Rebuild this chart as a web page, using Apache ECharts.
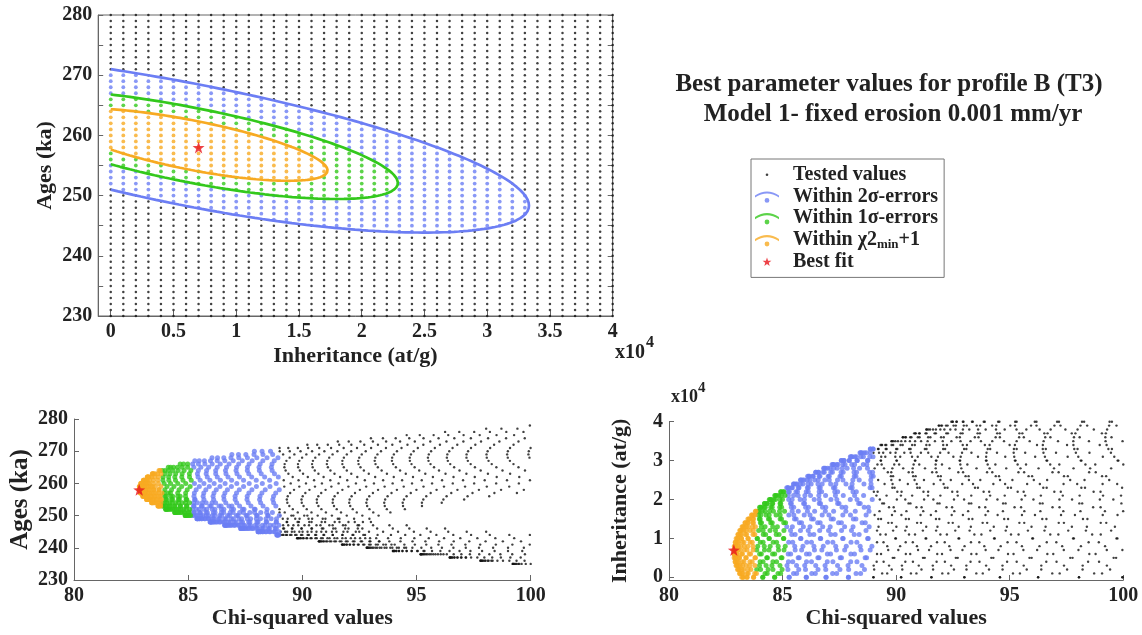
<!DOCTYPE html>
<html><head><meta charset="utf-8">
<script src="https://cdn.jsdelivr.net/npm/echarts@6/dist/echarts.min.js"></script>
<style>html,body{margin:0;padding:0;background:#fff}#c{width:1142px;height:635px}</style>
</head><body><div id="c"></div><script>
// ---- tested grid (inheritance in 10^4 at/g, ages in ka) ----
const inheritanceGrid = [0,0.1,0.2,0.3,0.4,0.5,0.6,0.7,0.8,0.9,1,1.1,1.2,1.3,1.4,1.5,1.6,1.7,1.8,1.9,2,2.1,2.2,2.3,2.4,2.5,2.6,2.7,2.8,2.9,3,3.1,3.2,3.3,3.4,3.5,3.6,3.7,3.8,3.9,4];
const ageGrid = [230,231,232,233,234,235,236,237,238,239,240,241,242,243,244,245,246,247,248,249,250,251,252,253,254,255,256,257,258,259,260,261,262,263,264,265,266,267,268,269,270,271,272,273,274,275,276,277,278,279,280];
// ---- chi-squared surface ----
const chi2Min = 82.85;
const bestFit = [0.7, 258];
const levelValues = [83.85, 85.15, 89.0];      // chi2min+1, 1 sigma, 2 sigma
const valleyAge = [261.0, -4.1, 0.09];         // age of column minimum vs inheritance
const valleyChi = [0.643, 0.85];               // inheritance of minimum, curvature
const ageCurvature = 0.058;
// ---- ticks ----
const inhTicks = [0,0.5,1,1.5,2,2.5,3,3.5,4];
const inhTicksBR = [0,1,2,3,4];
const levelNames = ['Within χ2min+1','Within 1σ-errors','Within 2σ-errors'];
const levelColors = ['#f7aa22','#33c81c','#6c7ef4'];

const FF = "'Liberation Serif','Times New Roman',serif";
const TXT = '#222';
const AX = '#666';

function mid(x){return valleyAge[0]+valleyAge[1]*x+valleyAge[2]*x*x;}
function chi2(x,y){const m=mid(x);return chi2Min+valleyChi[1]*(x-valleyChi[0])**2+ageCurvature*(y-m)**2;}

const pts = {black:[],lv:[[],[],[]]};
inheritanceGrid.forEach(x=>ageGrid.forEach(y=>{
  const c=chi2(x,y); let k=-1;
  for(let i=0;i<3;i++){if(c<=levelValues[i]){k=i;break;}}
  const p=[x,y,c];
  if(k<0) pts.black.push(p); else pts.lv[k].push(p);
}));
const bestChi = chi2(bestFit[0],bestFit[1]);

function contour(L){
  const d=L-chi2Min, R=Math.sqrt(d/valleyChi[1]), H=Math.sqrt(d/ageCurvature);
  let c0=-valleyChi[0]/R; if(c0<-1)c0=-1;
  const t0=Math.acos(c0), out=[];
  for(let i=0;i<=160;i++){const t=t0-2*t0*i/160;const x=valleyChi[0]+R*Math.cos(t);out.push([Math.max(0,x),mid(x)+H*Math.sin(t)]);}
  return out;
}

const starPath='path://M0,-10L2.35,-3.24L9.51,-3.09L3.8,1.24L5.88,8.09L0,4L-5.88,8.09L-3.8,1.24L-9.51,-3.09L-2.35,-3.24Z';
const pad='M0,0L0,0M33,14L33,14';
const arcIcon='path://'+pad+'M0,6Q12,-2 24,6L24,8.2Q12,0.2 0,8.2ZM9.6,11A2.4,2.4 0 1,0 14.4,11A2.4,2.4 0 1,0 9.6,11Z';
const dotIcon='path://'+pad+'M10.7,7A1.3,1.3 0 1,0 13.3,7A1.3,1.3 0 1,0 10.7,7Z';
const starIcon='path://'+pad+'M12,3L13.1,6.1L16.4,6.2L13.8,8.2L14.7,11.4L12,9.5L9.3,11.4L10.2,8.2L7.6,6.2L10.9,6.1Z';

const series=[];
// top grid
series.push({name:'Tested values',type:'scatter',xAxisIndex:0,yAxisIndex:0,symbolSize:2.5,itemStyle:{color:'#111'},data:pts.black.map(p=>[p[0],p[1]]),z:2});
for(let k=2;k>=0;k--){
  series.push({name:levelNames[k],type:'scatter',xAxisIndex:0,yAxisIndex:0,symbolSize:3.8,itemStyle:{color:levelColors[k]},data:pts.lv[k].map(p=>[p[0],p[1]]),z:3});
}
for(let k=2;k>=0;k--){
  series.push({name:levelNames[k],type:'line',xAxisIndex:0,yAxisIndex:0,showSymbol:false,symbol:'none',lineStyle:{color:levelColors[k],width:2.7},itemStyle:{color:levelColors[k]},data:contour(levelValues[k]),z:4});
}
series.push({name:'Best fit',type:'scatter',xAxisIndex:0,yAxisIndex:0,symbol:starPath,symbolSize:12,itemStyle:{color:'#e8141c'},data:[bestFit],z:6});
// bottom-left: chi2 vs age
series.push({name:'Tested values',type:'scatter',xAxisIndex:1,yAxisIndex:2,symbolSize:2.4,itemStyle:{color:'#111'},data:pts.black.filter(p=>p[2]<=100).map(p=>[p[2],p[1]]),z:2});
for(let k=2;k>=0;k--){
  series.push({name:levelNames[k],type:'scatter',xAxisIndex:1,yAxisIndex:2,symbolSize:5,itemStyle:{color:levelColors[k]},data:pts.lv[k].map(p=>[p[2],p[1]]),z:3});
}
series.push({name:'Best fit',type:'scatter',xAxisIndex:1,yAxisIndex:2,symbol:starPath,symbolSize:12,itemStyle:{color:'#e8141c'},data:[[bestChi,bestFit[1]]],z:6});
// bottom-right: chi2 vs inheritance
series.push({name:'Tested values',type:'scatter',xAxisIndex:2,yAxisIndex:3,symbolSize:2.4,itemStyle:{color:'#111'},data:pts.black.filter(p=>p[2]<=100).map(p=>[p[2],p[0]]),z:2});
for(let k=2;k>=0;k--){
  series.push({name:levelNames[k],type:'scatter',xAxisIndex:2,yAxisIndex:3,symbolSize:5,itemStyle:{color:levelColors[k]},data:pts.lv[k].map(p=>[p[2],p[0]]),z:3});
}
series.push({name:'Best fit',type:'scatter',xAxisIndex:2,yAxisIndex:3,symbol:starPath,symbolSize:12,itemStyle:{color:'#e8141c'},data:[[bestChi,bestFit[0]]],z:6});

const lbl={fontFamily:FF,fontWeight:'bold',fontSize:20,color:TXT};
const nm={fontFamily:FF,fontWeight:'bold',fontSize:22,color:TXT};
const nmBig={fontFamily:FF,fontWeight:'bold',fontSize:25,color:TXT};
const line={show:true,onZero:false,lineStyle:{color:AX,width:1}};
const tick={show:true,inside:true,length:5,lineStyle:{color:AX}};

const option={
  animation:false,
  backgroundColor:'#fff',
  grid:[
    {left:98.2,top:15,width:514.5,height:301,show:true,borderColor:AX,borderWidth:1,backgroundColor:'transparent'},
    {left:74,top:419,width:456.7,height:161},
    {left:669,top:421.7,width:454.3,height:158.3}
  ],
  xAxis:[
    {type:'value',gridIndex:0,min:-0.1,max:4,axisLine:line,axisTick:Object.assign({},tick,{customValues:inhTicks}),
     axisLabel:Object.assign({},lbl,{customValues:inhTicks,margin:6}),splitLine:{show:false},
     name:'Inheritance (at/g)',nameLocation:'middle',nameGap:29,nameTextStyle:nm},
    {type:'value',gridIndex:1,min:80,max:100,interval:5,axisLine:line,axisTick:tick,axisLabel:Object.assign({},lbl,{margin:6}),splitLine:{show:false},
     name:'Chi-squared values',nameLocation:'middle',nameGap:26,nameTextStyle:nm},
    {type:'value',gridIndex:2,min:80,max:100,interval:5,axisLine:line,axisTick:tick,axisLabel:Object.assign({},lbl,{margin:6}),splitLine:{show:false},
     name:'Chi-squared values',nameLocation:'middle',nameGap:26,nameTextStyle:nm}
  ],
  yAxis:[
    {type:'value',gridIndex:0,min:230,max:280,interval:5,axisLine:line,axisTick:tick,
     axisLabel:Object.assign({},lbl,{margin:6,formatter:v=>v%10===0?String(v):''}),splitLine:{show:false},
     name:'Ages (ka)',nameLocation:'middle',nameGap:42,nameTextStyle:nm},
    {type:'value',gridIndex:0,position:'right',min:230,max:280,interval:5,axisLine:line,axisTick:tick,axisLabel:{show:false},splitLine:{show:false}},
    {type:'value',gridIndex:1,min:230,max:280,interval:10,axisLine:line,axisTick:tick,axisLabel:Object.assign({},lbl,{margin:6}),splitLine:{show:false},
     name:'Ages (ka)',nameLocation:'middle',nameGap:41,nameTextStyle:nmBig},
    {type:'value',gridIndex:2,min:-0.07,max:4,axisLine:line,axisTick:Object.assign({},tick,{customValues:inhTicksBR}),
     axisLabel:Object.assign({},lbl,{margin:6,customValues:inhTicksBR}),splitLine:{show:false},
     name:'Inheritance (at/g)',nameLocation:'middle',nameGap:38,nameTextStyle:nm}
  ],
  legend:{
    orient:'vertical',left:751,top:159,padding:[5,6,5,4],itemGap:0,itemWidth:33,itemHeight:14,
    borderColor:'#777',borderWidth:1,selectedMode:false,
    data:[{name:'Tested values',icon:dotIcon},{name:'Within 2σ-errors',icon:arcIcon},{name:'Within 1σ-errors',icon:arcIcon},{name:'Within χ2min+1',icon:arcIcon},{name:'Best fit',icon:starIcon}],
    formatter:n=>n==='Within χ2min+1'?'{t|Within χ2}{s|min}{t|+1}':n,
    textStyle:{fontFamily:FF,fontWeight:'bold',fontSize:20,color:TXT,lineHeight:21.6,
      rich:{t:{fontFamily:FF,fontWeight:'bold',fontSize:20,color:TXT,lineHeight:21.6},s:{fontFamily:FF,fontWeight:'bold',fontSize:13,color:TXT,verticalAlign:'bottom',lineHeight:13,padding:[9,0,0,0]}}}
  },
  graphic:[
    {type:'text',x:889,y:85,style:{text:'Best parameter values for profile B (T3)',font:"bold 25px "+FF,fill:TXT,textAlign:'center',textVerticalAlign:'middle'}},
    {type:'text',x:893,y:115,style:{text:'Model 1- fixed erosion 0.001 mm/yr',font:"bold 25px "+FF,fill:TXT,textAlign:'center',textVerticalAlign:'middle'}},
    {type:'text',x:615,y:353,style:{text:'x10',font:"bold 20px "+FF,fill:TXT,textVerticalAlign:'middle'}},
    {type:'text',x:646,y:343,style:{text:'4',font:"bold 16px "+FF,fill:TXT,textVerticalAlign:'middle'}},
    {type:'text',x:671,y:397,style:{text:'x10',font:"bold 18px "+FF,fill:TXT,textVerticalAlign:'middle'}},
    {type:'text',x:698,y:388,style:{text:'4',font:"bold 15px "+FF,fill:TXT,textVerticalAlign:'middle'}}
  ],
  series:series
};
echarts.init(document.getElementById('c'),null,{renderer:'canvas'}).setOption(option);
</script></body></html>
